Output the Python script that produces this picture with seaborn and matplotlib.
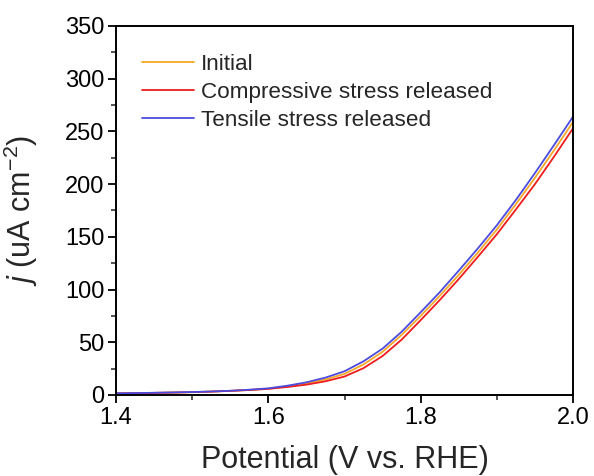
import numpy as np
import pandas as pd
import matplotlib
matplotlib.use("Agg")
import matplotlib.pyplot as plt
from matplotlib.ticker import MultipleLocator, FormatStrFormatter
import seaborn as sns

# potential (V vs. RHE)
potential = [1.400, 1.425, 1.450, 1.475, 1.500, 1.525, 1.550, 1.575, 1.600,
             1.625, 1.650, 1.675, 1.700, 1.725, 1.750, 1.775, 1.800, 1.825,
             1.850, 1.875, 1.900, 1.925, 1.950, 1.975, 2.000]

# current density (uA cm-2)
initial = [1.5, 1.7, 2.0, 2.3, 2.7, 3.2, 3.9, 4.8, 6.0,
           8.2, 11.0, 14.8, 20.0, 29.0, 41.0, 57.0, 75.0, 94.0,
           114.0, 135.0, 157.0, 181.0, 206.0, 232.0, 259.0]
compressive = [1.5, 1.7, 2.0, 2.3, 2.7, 3.2, 3.9, 4.7, 5.8,
               7.6, 9.8, 13.0, 17.5, 25.5, 37.0, 52.5, 71.0, 90.0,
               110.0, 131.0, 152.5, 176.0, 200.0, 226.0, 253.0]
tensile = [1.6, 1.8, 2.1, 2.4, 2.8, 3.3, 4.0, 5.0, 6.3,
           8.8, 12.0, 16.5, 22.5, 32.0, 44.0, 60.0, 78.5, 97.5,
           118.0, 139.0, 161.0, 185.0, 210.5, 237.0, 264.0]

labels = ["Initial", "Compressive stress released", "Tensile stress released"]
colors = ["#F4A828", "#EE1C1C", "#4B4BE0"]

df = pd.concat([
    pd.DataFrame({"E": potential, "j": vals, "sample": lab})
    for lab, vals in zip(labels, [initial, compressive, tensile])
])

sns.set_style("ticks")
plt.rcParams["font.family"] = ["Liberation Sans", "DejaVu Sans"]
plt.rcParams["mathtext.fontset"] = "custom"
plt.rcParams["mathtext.rm"] = "Liberation Sans"
plt.rcParams["mathtext.it"] = "Liberation Sans:italic"

fig = plt.figure(figsize=(5.94, 4.76), dpi=100)
ax = fig.add_axes([0.1953, 0.1702, 0.7694, 0.7752])

sns.lineplot(data=df, x="E", y="j", hue="sample", palette=colors,
             hue_order=labels, linewidth=1.3, ax=ax)

ax.set_xlim(1.4, 2.0)
ax.set_ylim(0, 350)
ax.xaxis.set_major_locator(MultipleLocator(0.2))
ax.xaxis.set_minor_locator(MultipleLocator(0.1))
ax.yaxis.set_major_locator(MultipleLocator(50))
ax.yaxis.set_minor_locator(MultipleLocator(25))
ax.xaxis.set_major_formatter(FormatStrFormatter("%.1f"))

for s in ax.spines.values():
    s.set_linewidth(1.4)
    s.set_color("black")
ax.tick_params(which="major", direction="out", length=5.5, width=1.3,
               labelsize=17, colors="black", pad=3)
ax.tick_params(which="minor", direction="out", length=3.5, width=1.1)

ax.set_xlabel("Potential (V vs. RHE)", fontsize=22, labelpad=12)
ax.set_ylabel(r"$j$ (uA cm$^{-2}$)", fontsize=22)
ax.yaxis.set_label_coords(-0.167, 0.5)

leg = ax.legend(loc="upper left", frameon=False, fontsize=16.2,
                handlelength=2.3, handletextpad=0.3, labelspacing=0.31,
                borderpad=0, borderaxespad=0,
                bbox_to_anchor=(0.057, 0.924))
for line in leg.get_lines():
    line.set_linewidth(1.3)

fig.savefig("out.png", dpi=100)
